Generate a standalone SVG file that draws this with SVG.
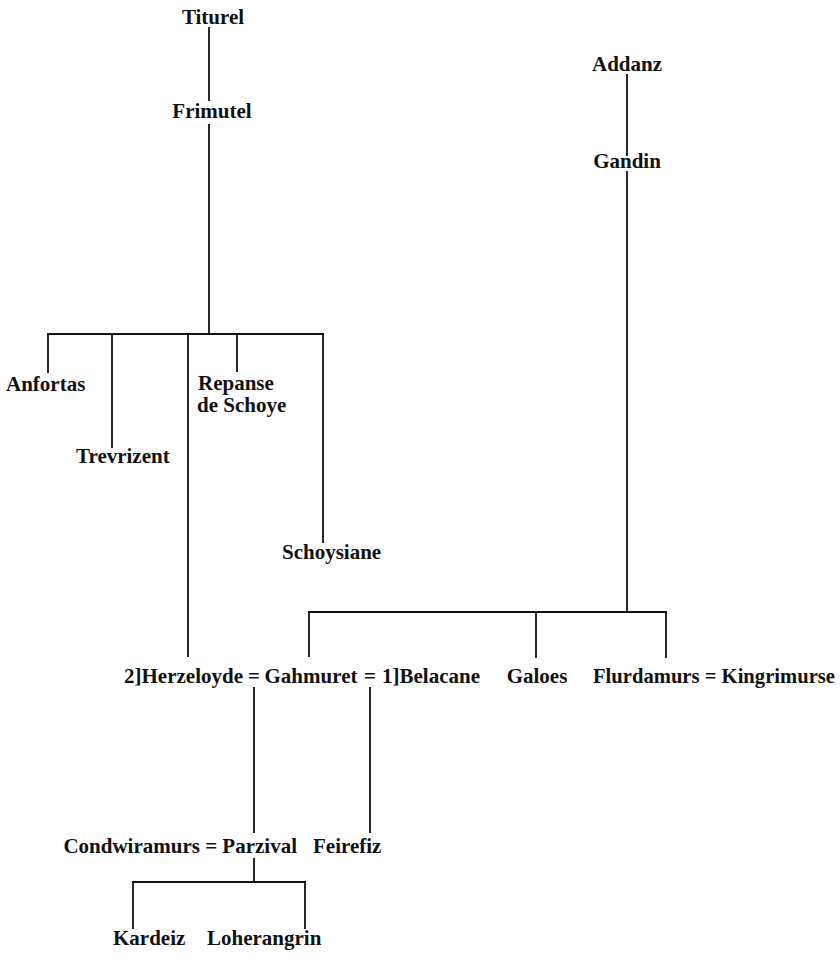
<svg xmlns="http://www.w3.org/2000/svg" width="840" height="960" viewBox="0 0 840 960">
<style>
text{font-family:"Liberation Serif","Times New Roman",serif;font-weight:bold;font-size:21px;fill:#111}
.m{text-anchor:middle}
.e{text-anchor:end}
#connectors line{stroke:#111;stroke-width:1.8;stroke-linecap:square}
</style>
<rect width="840" height="960" fill="#fff"/>
<g id="connectors">
<line x1="209" y1="28" x2="209" y2="100"/>
<line x1="209" y1="125" x2="209" y2="334"/>
<line x1="48" y1="334" x2="323" y2="334"/>
<line x1="48" y1="334" x2="48" y2="372"/>
<line x1="112" y1="334" x2="112" y2="447"/>
<line x1="188" y1="334" x2="188" y2="656"/>
<line x1="237" y1="334" x2="237" y2="371"/>
<line x1="323" y1="334" x2="323" y2="542"/>
<line x1="627" y1="75" x2="627" y2="155"/>
<line x1="627" y1="172" x2="627" y2="612"/>
<line x1="309" y1="612" x2="666" y2="612"/>
<line x1="309" y1="612" x2="309" y2="656"/>
<line x1="536" y1="612" x2="536" y2="657"/>
<line x1="666" y1="612" x2="666" y2="657"/>
<line x1="254" y1="688" x2="254" y2="832"/>
<line x1="370" y1="688" x2="370" y2="832"/>
<line x1="254" y1="859" x2="254" y2="882"/>
<line x1="133" y1="882" x2="305" y2="882"/>
<line x1="133" y1="882" x2="133" y2="928"/>
<line x1="305" y1="882" x2="305" y2="928"/>
</g>
<g id="titurel"><text class="m" x="213" y="24">Titurel</text></g>
<g id="frimutel"><text class="m" x="212" y="118">Frimutel</text></g>
<g id="anfortas"><text x="6" y="391">Anfortas</text></g>
<g id="trevrizent"><text x="76" y="463">Trevrizent</text></g>
<g id="repanse"><text x="198" y="390">Repanse</text><text x="197" y="412">de Schoye</text></g>
<g id="schoysiane"><text x="282" y="559">Schoysiane</text></g>
<g id="addanz"><text class="m" x="627" y="71">Addanz</text></g>
<g id="gandin"><text class="m" x="627" y="168">Gandin</text></g>
<g id="herzeloyde"><text class="e" x="243" y="683">2]Herzeloyde</text></g>
<g id="marriage1"><text class="m" x="254" y="683">=</text></g>
<g id="gahmuret"><text class="m" x="311" y="683">Gahmuret</text></g>
<g id="marriage2"><text class="m" x="370" y="683">=</text></g>
<g id="belacane"><text x="382" y="683">1]Belacane</text></g>
<g id="galoes"><text class="m" x="537" y="683">Galoes</text></g>
<g id="flurdamurs"><text x="593" y="683" textLength="242" lengthAdjust="spacingAndGlyphs">Flurdamurs = Kingrimurse</text></g>
<g id="parzival"><text class="e" x="297" y="853">Condwiramurs = Parzival</text></g>
<g id="feirefiz"><text x="313" y="853">Feirefiz</text></g>
<g id="kardeiz"><text x="113" y="945">Kardeiz</text></g>
<g id="loherangrin"><text x="207" y="945">Loherangrin</text></g>
</svg>
